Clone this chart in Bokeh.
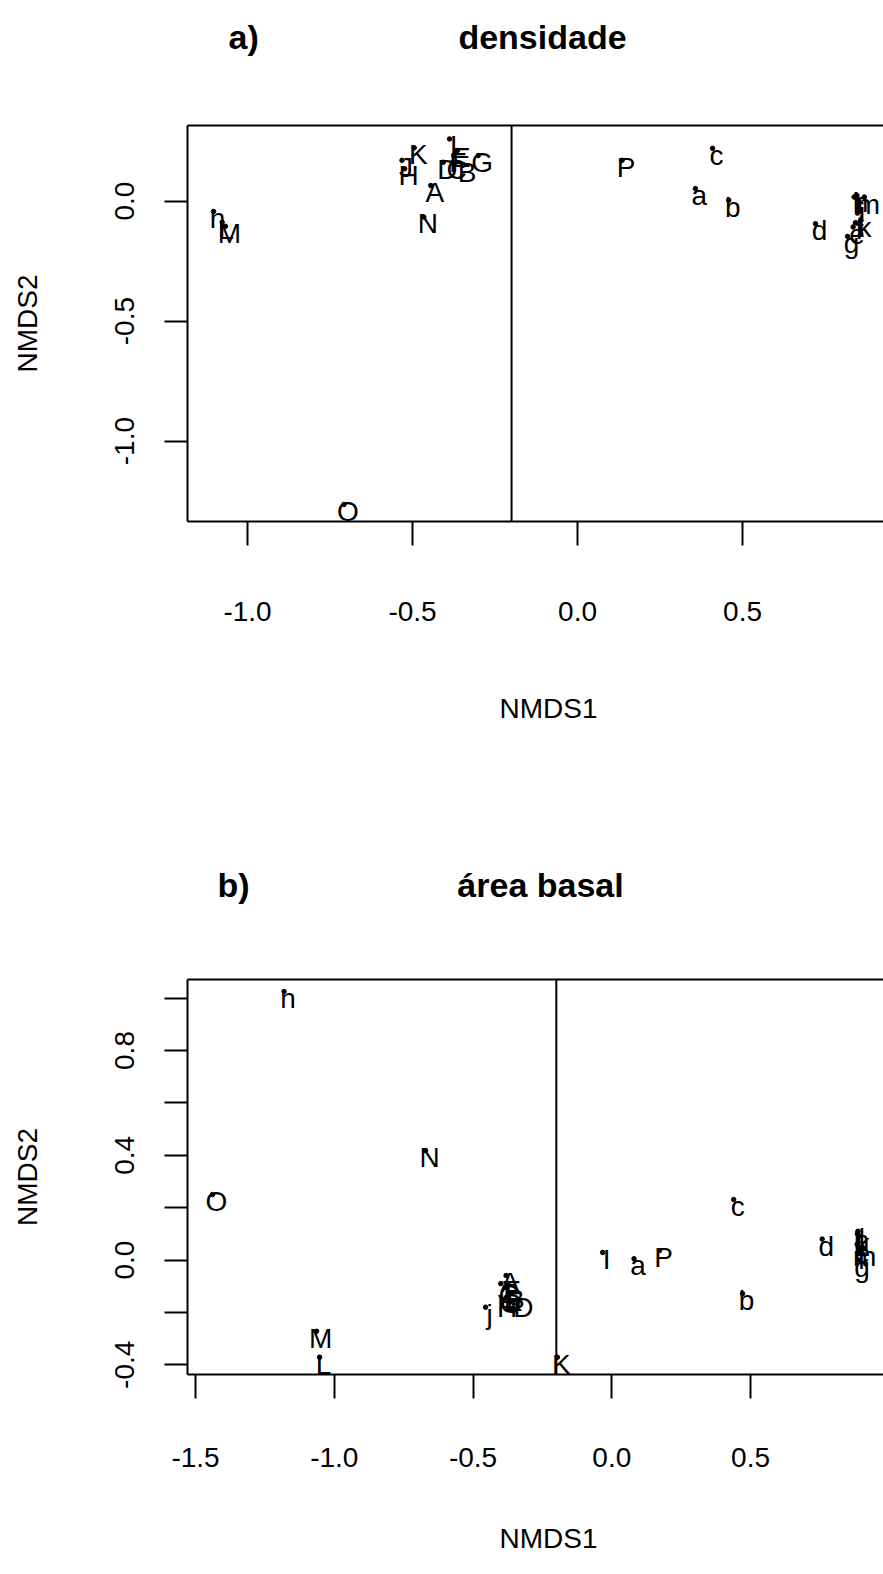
from bokeh.plotting import figure
from bokeh.layouts import column
from bokeh.models import Span, LinearAxis, FixedTicker, ColumnDataSource
from bokeh.core.properties import value
from bokeh.embed import file_html
from bokeh.resources import INLINE

FONT = "Liberation Sans"
W = 883
LEFT = 187

# ---------------- data: panel a) densidade ----------------
a_labels = ["A", "B", "C", "D", "E", "F", "G", "H", "I", "J", "K", "L", "M", "N", "O", "P",
            "a", "b", "c", "d", "e", "f", "g", "h", "i", "j", "k", "l", "m", "n"]
a_nmds1 = [-0.445, -0.347, -0.379, -0.407, -0.364, -0.375, -0.301, -0.524, -0.388, -0.532,
           -0.495, -1.077, -1.067, -0.466, -0.708, 0.135,
           0.357, 0.458, 0.409, 0.721, 0.835, 0.842, 0.818, 0.845, 0.850, 0.848,
           0.857, 0.838, 0.869, -1.103]
a_nmds2 = [0.065, 0.149, 0.161, 0.162, 0.211, 0.190, 0.190, 0.135, 0.259, 0.170,
           0.222, -0.088, -0.105, -0.066, -1.264, 0.170,
           0.052, 0.004, 0.220, -0.094, -0.108, -0.090, -0.147, 0.025, -0.020, -0.050,
           -0.080, 0.017, 0.017, -0.043]
a_xticks = [-1.0, -0.5, 0.0, 0.5]
a_yticks = [-1.0, -0.5, 0.0]
a_xlim = (-1.182, 0.927)
a_ylim = (-1.335, 0.315)

# ---------------- data: panel b) área basal ----------------
b_labels = ["A", "B", "C", "D", "E", "F", "G", "H", "I", "J", "K", "L", "M", "N", "O", "P",
            "a", "b", "c", "d", "e", "f", "g", "h", "i", "j", "k", "l", "m", "n"]
b_nmds1 = [-0.381, -0.362, -0.385, -0.333, -0.370, -0.375, -0.378, -0.392, -0.033, -0.400,
           -0.196, -1.053, -1.064, -0.671, -1.439, 0.172,
           0.080, 0.471, 0.439, 0.758, 0.888, 0.886, 0.887, 0.885, 0.884, -0.455,
           0.890, 0.887, 0.897, -1.181]
b_nmds2 = [-0.059, -0.125, -0.105, -0.155, -0.130, -0.090, -0.140, -0.155, 0.029, -0.090,
           -0.371, -0.371, -0.272, 0.418, 0.250, 0.036,
           0.005, -0.128, 0.231, 0.080, 0.050, 0.030, 0.000, 0.100, 0.060, -0.180,
           0.090, 0.110, 0.040, 1.025]
b_xticks = [-1.5, -1.0, -0.5, 0.0, 0.5]
b_yticks = [-0.4, -0.2, 0.0, 0.2, 0.4, 0.6, 0.8, 1.0]
b_ylabels_hidden = [-0.2, 0.2, 0.6, 1.0]
b_xlim = (-1.529, 0.979)
b_ylim = (-0.437, 1.071)

ref_line_x = -0.2


def fmt(v):
    return "%.1f" % v


def strip(height, items):
    """A plain text band (no axes) used for titles and x-axis titles.
    Its frame is aligned with the panels' frames (page x from LEFT to W)."""
    s = figure(width=W, height=height, x_range=(LEFT, W), y_range=(height, 0),
               x_axis_type=None, y_axis_type=None, output_backend="svg",
               toolbar_location=None, min_border_left=LEFT, min_border_right=0,
               min_border_top=0, min_border_bottom=0,
               background_fill_color="white", border_fill_color="white")
    s.outline_line_color = None
    s.xgrid.visible = False
    s.ygrid.visible = False
    for (tx, ty, txt, size, style, align) in items:
        s.text(x=[tx], y=[ty], text=[txt], text_align=align, text_baseline="middle",
               text_font=value(FONT), text_font_size=size, text_font_style=style,
               text_color="black")
    return s


def panel(labels, xs, ys, xticks, yticks, xlim, ylim, fig_height, border_top,
          border_bottom, x_label_standoff, hidden=()):
    p = figure(width=W, height=fig_height, x_range=xlim, y_range=ylim,
               output_backend="svg", toolbar_location=None,
               min_border_left=LEFT, min_border_right=0,
               min_border_top=border_top, min_border_bottom=border_bottom,
               background_fill_color="white", border_fill_color="white")
    p.outline_line_color = None
    p.xgrid.visible = False
    p.ygrid.visible = False

    for ax in (p.xaxis[0], p.yaxis[0]):
        ax.axis_line_width = 2
        ax.axis_line_color = "black"
        ax.major_tick_line_width = 2
        ax.major_tick_line_color = "black"
        ax.major_tick_in = 0
        ax.major_tick_out = 24
        ax.minor_tick_line_color = None
        ax.major_label_text_font = FONT
        ax.major_label_text_font_size = "28px"
        ax.major_label_text_color = "black"

    xa = p.xaxis[0]
    xa.ticker = FixedTicker(ticks=xticks)
    xa.major_label_overrides = {t: fmt(t) for t in xticks}
    xa.major_label_standoff = x_label_standoff

    ya = p.yaxis[0]
    ya.ticker = FixedTicker(ticks=yticks)
    ya.major_label_overrides = {t: ("" if t in hidden else fmt(t)) for t in yticks}
    ya.major_label_orientation = "vertical"
    ya.major_tick_out = 23
    ya.major_label_standoff = 30
    ya.axis_label = "NMDS2"
    ya.axis_label_text_font = FONT
    ya.axis_label_text_font_size = "28px"
    ya.axis_label_text_font_style = "normal"
    ya.axis_label_text_color = "black"
    ya.axis_label_standoff = 70

    top = LinearAxis(ticker=FixedTicker(ticks=[]), axis_line_width=2,
                     axis_line_color="black", major_tick_out=0, major_tick_in=0,
                     minor_tick_line_color=None, major_label_text_font_size="0px")
    p.add_layout(top, "above")

    p.add_layout(Span(location=ref_line_x, dimension="height",
                      line_color="black", line_width=2))

    src = ColumnDataSource(dict(x=xs, y=ys, lab=labels))
    p.scatter("x", "y", source=src, size=4.5, color="black")
    p.text("x", "y", text="lab", source=src, text_align="center",
           text_baseline="alphabetic", x_offset=4, y_offset=7,
           text_font=value(FONT), text_font_size="28px", text_color="black")
    return p


s1 = strip(75, [(228, 36, "a)", "34px", "bold", "left"),
                (542, 36, "densidade", "34px", "bold", "center")])
pa = panel(a_labels, a_nmds1, a_nmds2, a_xticks, a_yticks, a_xlim, a_ylim,
           fig_height=590, border_top=50, border_bottom=144, x_label_standoff=56)
s2 = strip(270, [(548, 43, "NMDS1", "28px", "normal", "center"),
                 (217, 219, "b)", "34px", "bold", "left"),
                 (540, 219, "área basal", "34px", "bold", "center")])
pb = panel(b_labels, b_nmds1, b_nmds2, b_xticks, b_yticks, b_xlim, b_ylim,
           fig_height=565, border_top=44, border_bottom=126, x_label_standoff=49,
           hidden=b_ylabels_hidden)
s3 = strip(74, [(548, 38, "NMDS1", "28px", "normal", "center")])

layout = column(s1, pa, s2, pb, s3, spacing=0)
open("out.html", "w").write(file_html(layout, INLINE))
